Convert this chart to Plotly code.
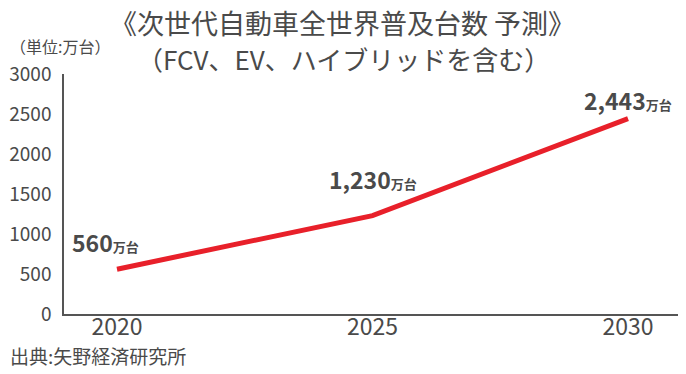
import plotly.graph_objects as go

# Forecast of next-generation vehicle stock worldwide (10k units)
years = [2020, 2025, 2030]
units = [560, 1230, 2443]
y_ticks = [0, 500, 1000, 1500, 2000, 2500, 3000]
x_ticks = [2020, 2025, 2030]

# label offsets (px) for each value annotation
label_dx = [-11, 0, 0]
label_dy = [27, 37, 19]

FONT = "Noto Sans CJK JP"
GREY = "#4a4a4a"
RED = "#e8202a"

W, H = 686, 374
ML, MR, MT, MB = 64, 8, 74, 60

fig = go.Figure()
fig.add_trace(go.Scatter(
    x=years, y=units, mode="lines",
    line=dict(color=RED, width=5),
    hoverinfo="skip", showlegend=False,
))

for yr, v, dx, dy in zip(years, units, label_dx, label_dy):
    fig.add_annotation(
        x=yr, y=v, xref="x", yref="y",
        text=f"<b>{v:,}</b><b><span style='font-size:13px'>万台</span></b>",
        showarrow=False, xshift=dx, yshift=dy,
        font=dict(family=FONT, size=23, color=GREY),
    )

fig.update_layout(
    width=W, height=H,
    margin=dict(l=ML, r=MR, t=MT, b=MB),
    paper_bgcolor="white", plot_bgcolor="white",
    font=dict(family=FONT, color=GREY),
    xaxis=dict(
        range=[2018.963, 2030.978], tickvals=x_ticks,
        ticktext=[str(t) for t in x_ticks],
        showgrid=False, zeroline=False,
        showline=True, linecolor="#555555", linewidth=1.5,
        ticks="", ticklabelstandoff=-8,
        tickfont=dict(family=FONT, size=23, color=GREY),
    ),
    yaxis=dict(
        range=[0, 3000], tickvals=y_ticks,
        showgrid=False, zeroline=False,
        showline=True, linecolor="#555555", linewidth=1.5,
        ticks="", ticklabelstandoff=7,
        tickfont=dict(family=FONT, size=19, color=GREY),
    ),
)

# titles and notes placed in pixel coordinates via paper fractions
pw, ph = W - ML - MR, H - MT - MB

def px(x, y):
    return (x - ML) / pw, (H - MB - y) / ph

texts = [
    ("《次世代自動車全世界普及台数 予測》", 342, 22, 27, "center"),
    ("（FCV、EV、ハイブリッドを含む）", 343, 58, 26, "center"),
    ("（単位:万台）", 8, 46, 16, "left"),
    ("出典:矢野経済研究所", 8, 355, 19, "left"),
]
for t, x, y, s, anchor in texts:
    ax, ay = px(x, y)
    fig.add_annotation(
        x=ax, y=ay, xref="paper", yref="paper", text=t, showarrow=False,
        xanchor=anchor, yanchor="middle",
        font=dict(family=FONT, size=s, color=GREY),
    )

fig.write_html("out.html")
